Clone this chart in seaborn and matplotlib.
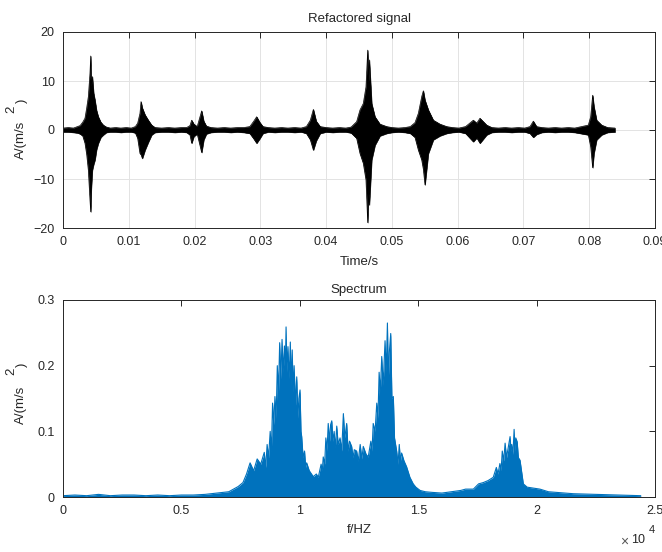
import numpy as np
import pandas as pd
import seaborn as sns
import matplotlib.pyplot as plt

sig_t = [0.0000, 0.0008, 0.0016, 0.0022, 0.0026, 0.0030, 0.00334, 0.00360, 0.00385, 0.00410,
         0.00421, 0.00430, 0.00446, 0.00466, 0.00486, 0.00510, 0.00537, 0.00575, 0.00613, 0.0066,
         0.0072, 0.0080, 0.0088, 0.0096, 0.0104, 0.0110, 0.01135, 0.0117, 0.01186, 0.01206,
         0.01247, 0.01297, 0.01348, 0.0140, 0.0150, 0.0160, 0.0170, 0.0180, 0.0188, 0.0193,
         0.01956, 0.0199, 0.0204, 0.02108, 0.0214, 0.0218, 0.0225, 0.0235, 0.0245, 0.0255,
         0.0265, 0.0275, 0.0284, 0.0290, 0.02944, 0.0299, 0.0304, 0.0312, 0.0322, 0.0332,
         0.0342, 0.0352, 0.0362, 0.0370, 0.0376, 0.03806, 0.0385, 0.0391, 0.0400, 0.0410,
         0.0420, 0.0430, 0.0438, 0.04464, 0.04515, 0.04565, 0.04606, 0.04632, 0.04645, 0.04657,
         0.04693, 0.04743, 0.04819, 0.04921, 0.0500, 0.0510, 0.0520, 0.0528, 0.05351, 0.05402,
         0.05453, 0.05478, 0.05503, 0.05554, 0.05630, 0.05731, 0.05833, 0.0592, 0.0602, 0.0612,
         0.06238, 0.0629, 0.06339, 0.06441, 0.0652, 0.0662, 0.0672, 0.0682, 0.0692, 0.0702,
         0.0710, 0.0715, 0.0720, 0.0728, 0.0738, 0.0748, 0.0758, 0.0768, 0.0778, 0.07986,
         0.08022, 0.08052, 0.08072, 0.08113, 0.08189, 0.0828, 0.08392]
sig_hi = [0.4, 0.5, 0.4, 0.7, 0.9, 1.6, 2.4, 4.5, 6.8, 11.6,
          15.1, 9.0, 10.9, 7.5, 6.1, 4.0, 2.7, 1.6, 1.0, 0.6,
          0.4, 0.5, 0.4, 0.5, 0.4, 0.7, 1.4, 3.4, 5.8, 4.5,
          3.1, 2.0, 1.0, 0.5, 0.4, 0.5, 0.4, 0.5, 0.5, 0.9,
          2.0, 1.2, 0.7, 3.9, 1.8, 0.8, 0.5, 0.4, 0.5, 0.4,
          0.5, 0.5, 0.7, 1.8, 2.7, 1.6, 0.7, 0.5, 0.4, 0.5,
          0.4, 0.5, 0.4, 0.7, 2.0, 4.2, 1.8, 0.7, 0.5, 0.4,
          0.5, 0.4, 0.6, 1.7, 4.1, 5.4, 8.8, 16.3, 10.0, 14.3,
          5.4, 2.7, 1.2, 0.7, 0.5, 0.4, 0.5, 0.7, 1.5, 3.4,
          6.8, 8.0, 6.1, 4.1, 2.0, 1.2, 0.7, 0.5, 0.4, 0.7,
          2.0, 1.4, 2.4, 1.0, 0.5, 0.4, 0.5, 0.4, 0.5, 0.4,
          0.7, 1.8, 0.7, 0.5, 0.4, 0.5, 0.4, 0.5, 0.4, 1.0,
          2.7, 7.1, 4.8, 2.0, 1.0, 0.5, 0.4]
sig_lo = [-0.4, -0.4, -0.5, -0.6, -0.8, -1.2, -2.7, -5.0, -8.2, -14.3,
          -16.7, -12.0, -8.2, -7.0, -6.1, -4.0, -2.7, -1.5, -1.0, -0.5,
          -0.4, -0.4, -0.5, -0.4, -0.4, -0.6, -1.7, -4.8, -5.0, -5.8,
          -4.1, -2.5, -1.0, -0.5, -0.4, -0.4, -0.5, -0.4, -0.5, -1.0,
          -2.7, -1.3, -0.8, -4.6, -2.0, -0.8, -0.5, -0.4, -0.4, -0.5,
          -0.4, -0.5, -0.7, -1.8, -2.7, -1.8, -0.7, -0.4, -0.5, -0.4,
          -0.4, -0.5, -0.4, -0.7, -2.0, -4.1, -2.2, -0.7, -0.4, -0.5,
          -0.4, -0.4, -0.6, -1.7, -4.8, -6.8, -10.2, -18.9, -13.0, -15.3,
          -6.1, -3.1, -1.2, -0.7, -0.5, -0.4, -0.5, -0.7, -1.5, -4.1,
          -6.1, -8.0, -11.2, -4.8, -2.0, -1.2, -0.7, -0.5, -0.4, -0.7,
          -2.4, -1.6, -2.7, -1.0, -0.5, -0.4, -0.4, -0.5, -0.4, -0.4,
          -0.7, -1.5, -0.9, -0.5, -0.4, -0.5, -0.4, -0.4, -0.5, -1.0,
          -3.4, -7.7, -4.8, -2.0, -1.0, -0.5, -0.4]

# spectrum, upper envelope of the dense trace (Hz)
freq = [0, 500, 1000, 1500, 2000, 2500, 3000, 3500, 4000, 4500,
        5000, 5500, 6000, 6500, 7000, 7200, 7400, 7600, 7750, 7900,
        8050, 8200, 8350,
        8500, 8560, 8620, 8680, 8750, 8800, 8850, 8900, 8950, 9000,
        9050, 9100, 9150, 9200, 9250, 9300, 9350, 9390, 9420, 9460,
        9500, 9550, 9600, 9640, 9680, 9720, 9760, 9820, 9870, 9920,
        9960, 10010, 10050, 10080, 10140, 10200, 10250, 10290,
        10400, 10570, 10700, 10780,
        10900, 10950, 10990, 11050, 11100, 11150, 11200, 11260, 11300, 11350,
        11400, 11450, 11500, 11560, 11620, 11700, 11770, 11840, 11900, 11980,
        12040, 12100, 12190, 12250, 12300, 12400, 12470, 12550, 12620, 12680,
        12800, 12890,
        13000, 13050, 13100, 13180, 13250, 13300, 13350, 13400, 13460, 13520,
        13600, 13650, 13700, 13740, 13780, 13840, 13890, 13950, 14000, 14090,
        14150, 14200, 14250, 14300, 14400, 14510,
        14650, 14790, 14900, 15080, 15300, 15600, 16000, 16400, 16800, 17000,
        17330, 17550, 17750, 17950, 18170,
        18300, 18370, 18450, 18500, 18550, 18610, 18670, 18730, 18800, 18880,
        18920, 18950, 19000, 19050, 19090, 19120, 19180, 19230, 19300,
        19440, 19600, 20140, 20500, 21550, 22500, 23500, 24400]
amp = [0.002, 0.003, 0.002, 0.004, 0.002, 0.003, 0.003, 0.002, 0.003, 0.002,
       0.003, 0.003, 0.004, 0.006, 0.008, 0.012, 0.016, 0.022, 0.035, 0.052,
       0.040, 0.058, 0.050,
       0.068, 0.045, 0.080, 0.060, 0.100, 0.070, 0.143, 0.110, 0.153, 0.120,
       0.200, 0.160, 0.235, 0.180, 0.240, 0.190, 0.230, 0.200, 0.259, 0.190,
       0.229, 0.180, 0.236, 0.170, 0.224, 0.160, 0.200, 0.140, 0.183, 0.120,
       0.150, 0.163, 0.100, 0.092, 0.060, 0.070, 0.045, 0.052,
       0.040, 0.031, 0.035, 0.030,
       0.050, 0.040, 0.061, 0.050, 0.090, 0.070, 0.112, 0.085, 0.110, 0.116,
       0.085, 0.100, 0.075, 0.108, 0.080, 0.090, 0.070, 0.127, 0.090, 0.112,
       0.070, 0.085, 0.077, 0.060, 0.072, 0.070, 0.055, 0.080, 0.058, 0.077,
       0.065, 0.061,
       0.085, 0.070, 0.112, 0.100, 0.143, 0.120, 0.190, 0.160, 0.214, 0.170,
       0.238, 0.190, 0.265, 0.180, 0.220, 0.249, 0.150, 0.153, 0.090, 0.070,
       0.050, 0.080, 0.055, 0.067, 0.055, 0.046,
       0.030, 0.020, 0.015, 0.010, 0.008, 0.007, 0.006, 0.008, 0.010, 0.012,
       0.012, 0.020, 0.022, 0.025, 0.030,
       0.045, 0.035, 0.051, 0.040, 0.070, 0.055, 0.082, 0.060, 0.075, 0.092,
       0.070, 0.080, 0.065, 0.103, 0.070, 0.090, 0.084, 0.060, 0.056,
       0.020, 0.015, 0.012, 0.008, 0.005, 0.004, 0.003, 0.002]

sig = pd.DataFrame({"t": sig_t, "hi": sig_hi, "lo": sig_lo})
spec = pd.DataFrame({"f": freq, "a": amp})

sns.set_style("white")
plt.rcParams["font.family"] = ["Liberation Sans", "DejaVu Sans"]
plt.rcParams["font.size"] = 9

fig = plt.figure(figsize=(6.62, 5.52), dpi=100)
ax1 = fig.add_axes([63 / 662, 1 - 228 / 552, 592 / 662, 196 / 552])
ax2 = fig.add_axes([63 / 662, 1 - 497 / 552, 592 / 662, 197 / 552])

blue = "#0072BD"
ink = "#262626"

## top: the black signal as a filled envelope
ax1.fill_between(sig["t"], sig["lo"], sig["hi"], color="black", lw=0.4)
sns.lineplot(data=sig, x="t", y="hi", ax=ax1, color="black", lw=0.5)
sns.lineplot(data=sig, x="t", y="lo", ax=ax1, color="black", lw=0.5)
ax1.set_xlim(0, 0.09)
ax1.set_ylim(-20, 20)
ax1.set_xticks(np.arange(0, 0.091, 0.01))
ax1.set_xticklabels(["0", "0.01", "0.02", "0.03", "0.04", "0.05", "0.06", "0.07", "0.08", "0.09"])
ax1.set_yticks([-20, -10, 0, 10, 20])
ax1.grid(True, color="#e3e3e3", lw=0.7)
ax1.set_axisbelow(True)
ax1.set_xlabel("")
ax1.set_ylabel("")
ax1.set_title("Refactored signal", fontsize=9.5, pad=7, color=ink)

## bottom: spectrum
ax2.fill_between(spec["f"], 0, spec["a"], color=blue, lw=0)
sns.lineplot(data=spec, x="f", y="a", ax=ax2, color=blue, lw=0.8)
ax2.set_xlim(0, 25000)
ax2.set_ylim(0, 0.3)
ax2.set_xticks([0, 5000, 10000, 15000, 20000, 25000])
ax2.set_xticklabels(["0", "0.5", "1", "1.5", "2", "2.5"])
ax2.set_yticks([0, 0.1, 0.2, 0.3])
ax2.set_yticklabels(["0", "0.1", "0.2", "0.3"])
ax2.set_xlabel("")
ax2.set_ylabel("")
ax2.set_title("Spectrum", fontsize=9.5, pad=5, color=ink)

for ax in (ax1, ax2):
    ax.tick_params(direction="in", length=4, width=0.7, colors=ink,
                   top=True, right=True, labelsize=9, pad=6)
    for s in ax.spines.values():
        s.set_color(ink)
        s.set_linewidth(0.7)
        s.set_visible(True)

def px(x, y):
    return x / 662, 1 - y / 552

fig.text(*px(359, 262), "Time/s", ha="center", va="center", fontsize=9.5, color=ink)
fig.text(*px(359, 530), "f/HZ", ha="center", va="center", fontsize=9.5, color=ink)

# the y labels, drawn in pieces as the reference shows them
for yc, y2, yp in [(140, 109, 101), (405, 371, 365)]:
    fig.text(*px(21, yc), "A/(m/s", rotation=90, ha="center", va="center", fontsize=9.5, color=ink)
    fig.text(*px(11, y2), "2", rotation=90, ha="center", va="center", fontsize=9.5, color=ink)
    fig.text(*px(22, yp), ")", rotation=90, ha="center", va="center", fontsize=9.5, color=ink)

fig.text(*px(624, 542), "\u00d7", ha="center", va="center", fontsize=10, color="#555555")
fig.text(*px(638, 540), "10", ha="center", va="center", fontsize=9, color=ink)
fig.text(*px(652, 530), "4", ha="center", va="center", fontsize=8, color=ink)

fig.savefig("out.png", dpi=100)
